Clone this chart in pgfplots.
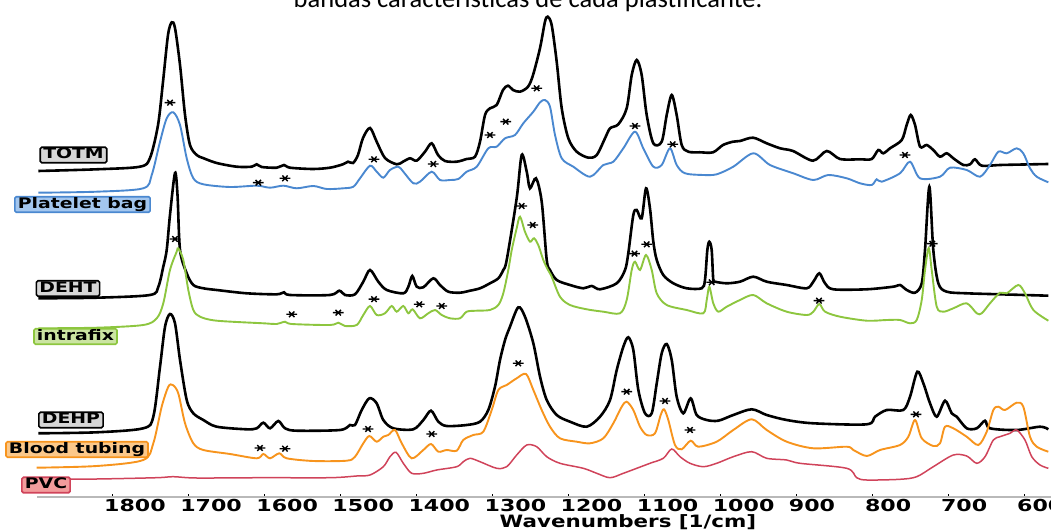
\documentclass[border=0pt]{standalone}
\usepackage{pgfplots}
\pgfplotsset{compat=1.18}
\usepackage{fontspec}
\setmainfont{DejaVu Sans}
\newfontfamily\titlefont{Carlito}
\newfontfamily\tickfont[FakeStretch=1.26]{DejaVu Sans}
\newfontfamily\digitfont[FakeStretch=1.34]{DejaVu Sans}
\newfontfamily\boxfont[FakeStretch=1.3]{DejaVu Sans}

\definecolor{cblue}{HTML}{4A88D0}
\definecolor{cgreen}{HTML}{8DC63F}
\definecolor{corange}{HTML}{F7941D}
\definecolor{cred}{HTML}{D0435A}
\definecolor{fgray}{HTML}{D6D6D6}
\definecolor{fblue}{HTML}{A3C6EE}
\definecolor{fgreen}{HTML}{CBE4A2}
\definecolor{forange}{HTML}{FBC88A}
\definecolor{fred}{HTML}{F29C9C}

\tikzset{lbl/.style 2 args={draw=#1, fill=#2, line width=1.6pt, rounded corners=1.5pt,
    inner xsep=3pt, inner ysep=1pt, text height=10.5pt, text depth=3pt,
    font=\boxfont\bfseries\fontsize{14.5}{14.5}\selectfont}}

\begin{document}
\begin{tikzpicture}
\useasboundingbox (0,0) rectangle (1051pt,530pt);

\begin{axis}[
    at={(37pt,33pt)}, anchor=south west,
    scale only axis, width=1014pt, height=497pt,
    xmin=565.8, xmax=1898.6, ymin=0, ymax=497,
    x dir=reverse,
    axis x line*=bottom, axis y line=none,
    axis line style={gray!55, line width=1.2pt},
    xtick={600,700,800,900,1000,1100,1200,1300,1400,1500,1600,1700,1800},
    xticklabels={600,700,800,900,1000,1100,1200,1300,1400,1500,1600,1700,1800},
    xticklabel style={font=\digitfont\bfseries\fontsize{16.5}{18}\selectfont,
        anchor=north west, inner sep=0pt, xshift=-8pt, yshift=-2pt},
    tick align=inside, major tick length=3pt,
    tick style={black, line width=1pt},
    clip=false,
]

% TOTM
\addplot[black, line width=2.6pt, smooth] coordinates {
(1896.9,326) (1820.1,327.7) (1763.2,330.3) (1750.1,339) (1739.5,372) (1733.0,415) (1726.4,462) (1721.5,474.7) (1717.2,469) (1710.6,432) (1704.0,382) (1697.5,352) (1688.7,342) (1680.4,339) (1662.4,334) (1636.1,330.3) (1616.4,330.3) (1609.8,332.7) (1603.2,330) (1583.5,329.3) (1573.9,332) (1566.0,329.3) (1535.8,328) (1513.5,329.3) (1496.4,332.7) (1489.8,335.3) (1483.2,334) (1476.7,342) (1470.1,359) (1460.9,369) (1452.1,355.3) (1441.2,339) (1425.8,332.7) (1417.5,335.3) (1408.3,338.7) (1399.5,336.3) (1388.6,345.3) (1379.8,353.7) (1371.5,342) (1362.3,336) (1346.9,335.3) (1333.8,338) (1322.9,340.3) (1316.3,355.3) (1309.7,382) (1303.2,388.7) (1294.4,392) (1286.1,407) (1279.5,411.3) (1272.9,407) (1263.7,405.3) (1253.2,410.3) (1246.6,422) (1237.4,449) (1230.9,475.3) (1227.3,480.3) (1222.1,472) (1215.5,435.3) (1208.9,388.7) (1200.2,358.7) (1189.2,345.3) (1173.9,339.3) (1162.9,342) (1152.0,358.7) (1145.4,368.7) (1134.5,372.7) (1123.5,388.7) (1116.9,422) (1110.3,437) (1103.8,422) (1097.2,382) (1088.5,353.7) (1077.5,355.3) (1070.9,382) (1064.3,402) (1057.8,382) (1051.2,352) (1042.5,345.3) (1027.1,344.7) (1010.0,344.7) (996.9,352) (983.8,355.3) (974.6,356) (957.5,359.3) (939.5,353.7) (921.9,348.7) (904.9,346) (878.6,336.3) (860.6,346) (843.1,338) (816.8,337.7) (801.5,338) (792.8,347) (786.2,343.7) (777.4,348.7) (762.0,357) (755.5,372) (750.2,382) (744.5,372) (737.9,350.3) (729.2,352) (720.5,347) (711.7,340.3) (702.9,343.7) (694.2,338.7) (681.0,332) (672.2,332.7) (665.7,337.7) (656.8,331.3) (632.8,332) (589.0,332.7) (569.3,333)
};

% Platelet bag
\addplot[cblue, line width=1.9pt, smooth] coordinates {
(1896.9,304.3) (1820.1,305.3) (1758.9,308.7) (1747.8,322) (1736.9,355.3) (1728.1,378.7) (1719.4,384.7) (1710.6,372) (1701.8,338.7) (1693.1,318.7) (1679.9,312.7) (1644.9,310) (1609.8,311.3) (1592.3,309.3) (1574.8,311.3) (1557.2,308.7) (1535.4,311) (1517.8,308) (1495.9,308.7) (1482.8,310.3) (1474.0,318.7) (1460.9,331.3) (1452.1,325.3) (1443.4,319.3) (1434.6,327) (1423.7,330.3) (1417.1,325.3) (1404.0,313.7) (1395.2,315.3) (1379.8,325.3) (1368.9,317) (1355.7,317) (1344.8,318) (1333.8,325.3) (1320.6,330.3) (1305.4,348.7) (1294.4,350.3) (1283.4,358.7) (1270.3,362) (1259.4,373.7) (1246.2,385.3) (1237.4,394.7) (1230.9,397) (1224.3,390.3) (1217.7,362) (1208.9,338.7) (1193.7,330.3) (1171.7,320.3) (1154.2,332) (1141.1,335.3) (1127.9,348.7) (1112.6,365.3) (1101.7,348.7) (1088.5,330.3) (1077.5,332) (1066.6,348.7) (1057.8,332) (1046.9,323.7) (1022.8,322) (1005.2,322.7) (983.4,330.3) (957.1,343.7) (935.1,332) (904.5,323.7) (878.2,317) (858.5,322) (834.3,318.7) (816.8,313.7) (801.5,312) (794.9,317.7) (788.3,315.3) (764.3,323.7) (751.1,335.3) (737.9,318.7) (711.7,320.3) (698.5,329.3) (676.6,327) (659.1,320.3) (646.0,332) (635.0,345.3) (624.0,343.7) (610.9,348.7) (602.2,343.7) (593.4,328.7) (584.6,320.3) (569.3,314.7)
};

% DEHT
\addplot[black, line width=2.6pt, smooth] coordinates {
(1896.9,198.7) (1820.1,199.3) (1750.1,202) (1739.1,210.3) (1732.6,230.3) (1728.1,247) (1723.8,282) (1717.2,324) (1713.9,302) (1710.6,247) (1701.8,223.7) (1693.1,212) (1679.9,208.7) (1662.4,207) (1623.0,203.7) (1583.5,202.7) (1573.9,204.7) (1566.0,202) (1513.5,202) (1501.2,206.3) (1493.7,202) (1480.6,202.7) (1469.7,215.3) (1460.9,227) (1450.0,215.3) (1438.9,207) (1417.1,203.7) (1410.5,210.3) (1405.3,221) (1399.5,210.3) (1390.8,209.7) (1377.7,218.7) (1368.9,212) (1358.0,205.3) (1342.6,204.3) (1329.4,206.3) (1316.3,208.7) (1303.2,213.7) (1292.2,218.7) (1285.7,227) (1281.2,237) (1268.1,298.7) (1261.5,342) (1254.9,325.3) (1250.6,308.7) (1242.7,318.7) (1235.2,295.3) (1228.6,237) (1224.3,227) (1215.5,217) (1198.0,212) (1180.5,208.7) (1169.5,211) (1158.6,207.7) (1136.6,213.7) (1125.7,227) (1121.4,243.7) (1114.8,282) (1110.3,287) (1103.8,278.7) (1098.1,308.7) (1092.9,288.7) (1088.5,255.3) (1084.0,237) (1075.4,222) (1062.2,213.7) (1044.6,208.7) (1024.9,208.7) (1020.6,217) (1017.5,247) (1014.9,255.3) (1011.8,247) (1009.7,217) (1007.4,215.3) (992.0,213.7) (974.6,215.3) (957.1,220.3) (939.5,215.3) (913.2,212) (886.9,208.7) (878.2,215.3) (870.3,223.7) (862.8,213.7) (851.9,207.7) (808.0,207.7) (773.1,210.3) (764.3,212) (755.4,207) (744.5,204.3) (735.7,213.7) (731.4,247) (725.7,310.3) (720.5,247) (713.9,213.7) (702.9,205.3) (676.6,203.7) (632.8,202.7) (569.3,201.3)
};

% intrafix
\addplot[cgreen, line width=1.9pt, smooth] coordinates {
(1896.9,168.7) (1820.1,169.3) (1758.9,172) (1741.2,178.7) (1732.6,193.7) (1723.8,227) (1715.0,245.3) (1712.9,248.7) (1706.3,237) (1699.7,207) (1693.1,187) (1684.3,180.3) (1662.4,176.3) (1601.1,173.7) (1583.5,173) (1572.6,175.3) (1563.8,173) (1513.5,172) (1502.6,174.3) (1493.7,171) (1478.4,172) (1469.7,182) (1460.9,191) (1452.1,182) (1441.2,183.7) (1432.4,191) (1425.8,185.3) (1417.1,191) (1410.5,183.7) (1404.8,187.7) (1395.2,178.7) (1384.3,183.7) (1375.4,187) (1366.6,182) (1355.7,178.7) (1342.6,178.7) (1333.8,185.3) (1320.6,186.3) (1303.2,187) (1292.2,192) (1285.7,203.7) (1279.1,227) (1274.6,247) (1268.1,268.7) (1263.7,280.3) (1257.2,265.3) (1250.6,255.3) (1245.3,258.7) (1239.7,252) (1233.1,237) (1226.9,227) (1222.1,220.3) (1211.2,200.3) (1198.0,192) (1176.1,187.7) (1154.2,185.3) (1132.3,183.7) (1123.5,197) (1116.9,227) (1112.6,235.3) (1106.0,227) (1098.1,242) (1090.6,227) (1084.0,203.7) (1070.9,192) (1044.6,187) (1022.8,183.7) (1018.3,197) (1014.9,210.3) (1009.7,193.7) (1003.1,185.3) (992.0,190.3) (974.6,197) (957.1,202) (939.5,193.7) (913.2,185.3) (886.9,182) (878.2,185.3) (870.3,193) (862.8,185.3) (843.1,180.3) (808.0,176.3) (781.7,177) (764.3,177) (751.1,173.7) (742.3,177) (735.7,197) (731.4,227) (726.5,249) (722.6,227) (716.0,190.3) (707.3,185.3) (694.2,188.7) (676.6,193.7) (663.4,183.7) (656.8,183.7) (646.0,193.7) (632.8,204.3) (624.0,203.7) (608.8,212) (600.0,203.7) (589.0,187) (569.3,176.3)
};

% DEHP
\addplot[black, line width=2.6pt, smooth] coordinates {
(1896.9,63.7) (1820.1,64.7) (1758.9,68.7) (1745.7,80.3) (1736.9,130.3) (1730.3,170.3) (1723.8,183) (1717.2,173.7) (1710.6,137) (1701.8,97) (1693.1,83.7) (1679.9,77) (1662.4,70.3) (1623.0,67.7) (1609.8,68.7) (1601.1,74.3) (1592.3,68.7) (1581.4,76) (1572.6,68.7) (1557.2,66.3) (1500.3,67) (1487.2,72) (1480.6,72) (1471.8,87) (1461.8,98.7) (1452.1,93.7) (1443.4,77) (1430.3,68.7) (1404.0,67.7) (1390.8,77) (1380.7,86.3) (1371.1,75.3) (1360.1,71) (1333.8,72) (1316.3,75.3) (1305.4,87) (1296.6,110.3) (1290.0,137) (1283.4,157) (1276.9,170.3) (1266.0,189.7) (1257.2,180.3) (1246.2,153.7) (1237.4,120.3) (1228.6,97) (1215.5,82) (1198.0,75.3) (1176.1,70.3) (1158.6,80.3) (1145.4,97) (1136.6,127) (1127.9,150.3) (1121.4,159.7) (1114.8,147) (1108.2,107) (1099.4,83.7) (1090.6,83.7) (1084.0,113.7) (1077.5,143.7) (1070.9,153) (1064.3,137) (1057.8,100.3) (1049.1,83.7) (1039.4,98.7) (1031.5,82) (1018.3,77) (1003.1,76.3) (983.4,82) (959.2,87.7) (939.5,82) (913.2,77) (878.2,73.7) (808.0,72.7) (797.1,80.3) (781.7,87) (759.9,87) (751.1,100.3) (741.5,125.3) (733.6,113.7) (724.8,93.7) (716.0,80.3) (705.1,96.3) (696.3,83.7) (689.7,80.3) (676.6,68.7) (663.4,68.7) (652.5,76.3) (646.0,68.7) (610.9,67) (580.2,70.3) (569.3,67.7)
};

% Blood tubing
\addplot[corange, line width=1.9pt, smooth] coordinates {
(1899.0,29.3) (1820.1,31) (1758.9,37) (1745.7,53.7) (1734.7,90.3) (1726.0,110.3) (1720.2,112) (1712.9,103.7) (1704.0,73.7) (1693.1,53.7) (1679.9,47) (1644.9,43) (1609.8,38.7) (1601.1,43) (1592.3,38.7) (1580.1,43.7) (1570.4,38.7) (1535.4,36) (1491.5,36.3) (1480.6,40.3) (1469.7,53.7) (1461.8,61) (1452.1,55.3) (1443.4,60.3) (1436.8,62) (1428.0,67) (1419.2,53.7) (1406.1,38.7) (1390.8,47) (1380.7,53) (1371.1,45.3) (1360.1,47) (1346.9,46.3) (1338.3,57) (1325.1,62) (1312.0,65.3) (1300.9,87) (1292.2,107) (1281.2,112) (1268.1,118.7) (1255.8,123) (1246.2,107) (1235.2,87) (1224.3,70.3) (1211.2,58.7) (1189.2,55.3) (1171.7,53.7) (1154.2,58.7) (1141.1,73.7) (1130.0,90.3) (1123.5,95.3) (1114.8,87) (1106.0,70.3) (1097.2,62) (1086.3,63.7) (1078.8,82) (1074.4,87.7) (1068.8,77) (1060.0,52) (1051.2,47.7) (1039.4,56.3) (1029.4,50.3) (1005.2,55.3) (983.4,67) (959.2,77.7) (939.5,67) (913.2,55.3) (878.2,48.7) (834.3,50.3) (825.6,47) (808.0,41) (790.5,47) (764.3,52) (753.3,60.3) (744.5,77) (735.7,58.7) (720.5,51) (711.7,53.7) (705.1,70.3) (694.2,68.7) (676.6,60.3) (661.3,52) (650.3,65.3) (641.6,87) (635.0,90.3) (626.2,87) (610.9,94.3) (602.2,90.3) (593.4,60.3) (584.6,50.3) (569.3,45.3)
};

% PVC
\addplot[cred, line width=1.5pt, smooth] coordinates {
(1899.0,17.7) (1820.1,18) (1741.2,19.3) (1719.4,20.3) (1688.7,19) (1601.1,19.3) (1513.5,19.3) (1478.4,21) (1460.9,22) (1443.4,30.3) (1434.6,40.3) (1426.7,44.7) (1417.1,33.7) (1406.1,23.7) (1390.8,23.7) (1373.2,27) (1346.9,30.3) (1338.3,35.3) (1329.4,38.7) (1316.3,35.3) (1294.4,28.7) (1281.2,30.3) (1268.1,42) (1254.9,52) (1241.8,50.3) (1228.6,40.3) (1211.2,33.7) (1180.5,28.7) (1162.9,23.7) (1145.4,19.3) (1127.9,23.7) (1110.3,28.7) (1092.9,33.7) (1075.4,38.7) (1064.3,48) (1053.4,40.3) (1040.3,33.7) (1022.8,30.3) (1005.2,33.7) (983.4,40.3) (959.2,45.3) (939.5,38.7) (913.2,37) (895.7,33.7) (834.3,28.7) (821.2,19.3) (808.0,17) (764.3,17.7) (742.3,20.3) (720.5,30.3) (694.2,42) (676.6,41) (663.4,33.7) (652.5,40.3) (641.6,57) (632.8,60.3) (619.7,63.7) (610.9,67) (600.0,57) (591.1,40.3) (580.2,32) (569.3,28.7)
};

% characteristic bands
\addplot[only marks, mark=asterisk, mark size=3.6pt,
    mark options={black, line width=1.4pt, xscale=1.5, yscale=0.9, rotate=90}] coordinates {
(1723.8,394.3) (1607.7,314.3) (1572.6,318.7) (1455.6,337.7) (1377.7,333) (1303.2,362) (1282.5,375.3) (1241.8,408.7) (1112.6,371) (1063.0,352.7) (757.7,342)
(1717.2,258) (1563.8,182.7) (1502.6,184.3) (1455.6,197.8) (1396.1,192.7) (1366.6,191) (1261.5,291) (1247.0,272) (1113.2,243.4) (1097.2,252.7) (1011.8,214.7) (870.7,196.3) (721.8,253.3)
(1605.5,49) (1572.6,48.3) (1463.5,68) (1379.8,63) (1266.0,133.7) (1123.5,105.3) (1073.1,96) (1040.3,67) (743.2,82.7)
};
\end{axis}

\node[font=\titlefont\fontsize{26.5}{26.5}\selectfont, anchor=base] at (528pt,522pt)
    {bandas características de cada plastificante.};
\node[font=\tickfont\bfseries\fontsize{17}{18}\selectfont, inner sep=0pt] at (628pt,8pt) {Wavenumbers [1/cm]};

\node[lbl={black}{fgray}] at (73.5pt,375pt) {TOTM};
\node[lbl={cblue}{fblue}] at (82.5pt,325.5pt) {Platelet bag};
\node[lbl={black}{fgray}] at (68pt,241.5pt) {DEHT};
\node[lbl={cgreen}{fgreen}] at (75.5pt,193.5pt) {intrafix};
\node[lbl={black}{fgray}] at (71pt,110pt) {DEHP};
\node[lbl={corange}{forange}] at (77pt,80.5pt) {Blood tubing};
\node[lbl={cred}{fred}] at (46pt,45pt) {PVC};
\end{tikzpicture}
\end{document}
